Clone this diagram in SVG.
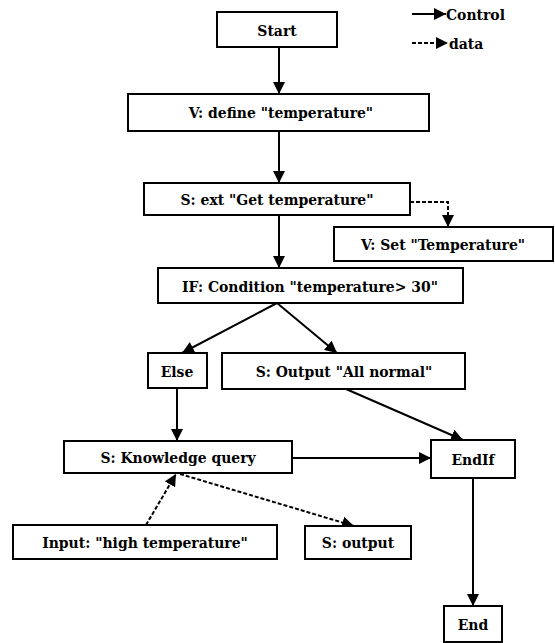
<svg xmlns="http://www.w3.org/2000/svg" width="555" height="643" viewBox="0 0 555 643" font-family="DejaVu Serif Condensed, DejaVu Serif, serif" font-stretch="condensed" font-size="15.5" font-weight="bold">
<style>
.box{fill:#fff;stroke:#000;stroke-width:2}
text{fill:#000;text-anchor:middle;dominant-baseline:central}
.l{text-anchor:start}
.c{fill:none;stroke:#000;stroke-width:2}
.d{fill:none;stroke:#000;stroke-width:2;stroke-dasharray:4 2}
</style>
<defs>
<marker id="ah" markerWidth="12" markerHeight="12" viewBox="0 0 12 12" refX="12" refY="6" orient="auto" markerUnits="userSpaceOnUse">
<path d="M0,0 L12,6 L0,12 Z" fill="#000"/>
</marker>
</defs>
<rect width="555" height="643" fill="#fff"/>
<g id="legend">
<line class="c" x1="412" y1="14" x2="446" y2="14" marker-end="url(#ah)"/>
<text class="l" x="446" y="14">Control</text>
<line class="d" x1="412" y1="43" x2="448" y2="43" marker-end="url(#ah)"/>
<text class="l" x="449" y="43">data</text>
</g>
<g id="connectors">
<line class="c" x1="279" y1="47" x2="279" y2="94" marker-end="url(#ah)"/>
<line class="c" x1="279" y1="131" x2="279" y2="183" marker-end="url(#ah)"/>
<polyline class="d" points="410,202 448,202 448,227" marker-end="url(#ah)"/>
<line class="c" x1="279" y1="215" x2="279" y2="268" marker-end="url(#ah)"/>
<line class="c" x1="277" y1="303" x2="182" y2="353" marker-end="url(#ah)"/>
<line class="c" x1="277" y1="303" x2="337" y2="353" marker-end="url(#ah)"/>
<line class="c" x1="177" y1="388" x2="177" y2="441" marker-end="url(#ah)"/>
<line class="c" x1="346" y1="389" x2="463" y2="440" marker-end="url(#ah)"/>
<line class="c" x1="292" y1="458" x2="431" y2="458" marker-end="url(#ah)"/>
<line class="d" x1="146" y1="525" x2="176" y2="474" marker-end="url(#ah)"/>
<line class="d" x1="180" y1="474" x2="354" y2="526" marker-end="url(#ah)"/>
<line class="c" x1="473" y1="478" x2="473" y2="606" marker-end="url(#ah)"/>
</g>
<g id="start"><rect class="box" x="217" y="12" width="120" height="35"/><text x="277" y="30">Start</text></g>
<g id="define"><rect class="box" x="128" y="94" width="301" height="37"/><text x="281" y="112">V: define "temperature"</text></g>
<g id="ext"><rect class="box" x="144" y="183" width="266" height="32"/><text x="277" y="199">S: ext "Get temperature"</text></g>
<g id="set"><rect class="box" x="334" y="227" width="219" height="34"/><text x="443" y="244">V: Set "Temperature"</text></g>
<g id="if"><rect class="box" x="158" y="268" width="305" height="35"/><text x="310" y="286">IF: Condition "temperature&gt; 30"</text></g>
<g id="else"><rect class="box" x="148" y="353" width="59" height="35"/><text x="177" y="371">Else</text></g>
<g id="outnormal"><rect class="box" x="222" y="353" width="243" height="36"/><text x="344" y="371">S: Output "All normal"</text></g>
<g id="knowledge"><rect class="box" x="64" y="441" width="228" height="32"/><text x="178" y="457">S: Knowledge query</text></g>
<g id="endif"><rect class="box" x="431" y="440" width="84" height="38"/><text x="473" y="459">EndIf</text></g>
<g id="input"><rect class="box" x="13" y="525" width="264" height="34"/><text x="145" y="542">Input: "high temperature"</text></g>
<g id="soutput"><rect class="box" x="305" y="526" width="106" height="33"/><text x="358" y="542">S: output</text></g>
<g id="end"><rect class="box" x="444" y="606" width="58" height="36"/><text x="473" y="624">End</text></g>
</svg>
